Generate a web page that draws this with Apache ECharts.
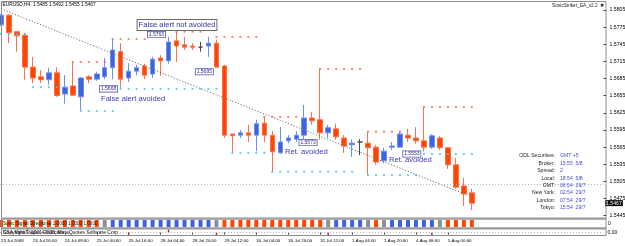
<!DOCTYPE html>
<html>
<head>
<meta charset="utf-8">
<script src="https://cdn.jsdelivr.net/npm/echarts@6/dist/echarts.min.js"></script>
<style>
  html, body { margin: 0; padding: 0; background: #fff; }
  #chart { width: 625px; height: 246px; }
</style>
</head>
<body>
<div id="chart"></div>
<script>
// H4 bars, EURUSD
const categories = [
  '23 Jul 2008', '23 Jul 04:00', '23 Jul 08:00', '23 Jul 12:00', '23 Jul 16:00', '23 Jul 20:00',
  '24 Jul 00:00', '24 Jul 04:00', '24 Jul 08:00', '24 Jul 12:00', '24 Jul 16:00', '24 Jul 20:00',
  '25 Jul 00:00', '25 Jul 04:00', '25 Jul 08:00', '25 Jul 12:00', '25 Jul 16:00', '25 Jul 20:00',
  '27 Jul 20:00', '28 Jul 00:00', '28 Jul 04:00', '28 Jul 08:00', '28 Jul 12:00', '28 Jul 16:00',
  '28 Jul 20:00', '29 Jul 00:00', '29 Jul 04:00', '29 Jul 08:00', '29 Jul 12:00', '29 Jul 16:00',
  '29 Jul 20:00', '30 Jul 00:00', '30 Jul 04:00', '30 Jul 08:00', '30 Jul 12:00', '30 Jul 16:00',
  '30 Jul 20:00', '31 Jul 00:00', '31 Jul 04:00', '31 Jul 08:00', '31 Jul 12:00', '31 Jul 16:00',
  '31 Jul 20:00', '1 Aug 00:00', '1 Aug 04:00', '1 Aug 08:00', '1 Aug 12:00', '1 Aug 16:00',
  '1 Aug 20:00', '3 Aug 20:00', '4 Aug 00:00', '4 Aug 04:00', '4 Aug 08:00', '4 Aug 12:00',
  '4 Aug 16:00', '4 Aug 20:00', '5 Aug 00:00', '5 Aug 04:00', '5 Aug 08:00', '5 Aug 12:00'
]
const emptySlots = 16 // chart shift space on the right

const opens = [
  1.5779, 1.5796, 1.5767, 1.5761, 1.5705, 1.5688, 1.5683, 1.5695, 1.5658, 1.5672,
  1.5653, 1.5688, 1.5684, 1.5688, 1.5704, 1.5732, 1.5686, 1.5698, 1.5707, 1.5693,
  1.5721, 1.5716, 1.5751, 1.5744, 1.5742, 1.5740, 1.5742, 1.5747, 1.5707, 1.5588,
  1.5586, 1.5590, 1.5586, 1.5607, 1.5586, 1.5555, 1.5576, 1.5579, 1.5586, 1.5616,
  1.5613, 1.5590, 1.5597, 1.5581, 1.5569, 1.5574, 1.5572, 1.5565, 1.5541, 1.5565,
  1.5565, 1.5586, 1.5581, 1.5576, 1.5565, 1.5581, 1.5564, 1.5534, 1.5497, 1.5485
]
const closes = [
  1.5796, 1.5765, 1.5760, 1.5705, 1.5686, 1.5683, 1.5695, 1.5655, 1.5670, 1.5656,
  1.5686, 1.5684, 1.5693, 1.5704, 1.5735, 1.5684, 1.5698, 1.5704, 1.5691, 1.5719,
  1.5716, 1.5749, 1.5742, 1.5740, 1.5740, 1.5740, 1.5747, 1.5705, 1.5586, 1.5585,
  1.5590, 1.5586, 1.5606, 1.5586, 1.5557, 1.5574, 1.5581, 1.5586, 1.5616, 1.5611,
  1.5590, 1.5599, 1.5583, 1.5567, 1.5572, 1.5574, 1.5564, 1.5539, 1.5558, 1.5567,
  1.5588, 1.5581, 1.5576, 1.5565, 1.5585, 1.5564, 1.5534, 1.5495, 1.5483, 1.5467
]
const highs = [
  1.5798, 1.5798, 1.5768, 1.5765, 1.5723, 1.5700, 1.5704, 1.5705, 1.5691, 1.5714,
  1.5688, 1.5691, 1.5697, 1.5721, 1.5754, 1.5747, 1.5712, 1.5709, 1.5711, 1.5723,
  1.5726, 1.5758, 1.5767, 1.5758, 1.5747, 1.5749, 1.5758, 1.5753, 1.5709, 1.5588,
  1.5595, 1.5604, 1.5613, 1.5618, 1.5593, 1.5600, 1.5586, 1.5593, 1.5639, 1.5627,
  1.5702, 1.5604, 1.5606, 1.5586, 1.5578, 1.5579, 1.5592, 1.5569, 1.5564, 1.5574,
  1.5593, 1.5597, 1.5600, 1.5635, 1.5588, 1.5585, 1.5565, 1.5546, 1.5511, 1.5492
]
const lows = [
  1.5777, 1.5747, 1.5732, 1.5683, 1.5677, 1.5677, 1.5674, 1.5653, 1.5641, 1.5655,
  1.5630, 1.5677, 1.5681, 1.5684, 1.5684, 1.5669, 1.5679, 1.5691, 1.5684, 1.5686,
  1.5690, 1.5711, 1.5714, 1.5735, 1.5735, 1.5732, 1.5723, 1.5704, 1.5581, 1.5555,
  1.5581, 1.5574, 1.5558, 1.5574, 1.5522, 1.5553, 1.5572, 1.5574, 1.5574, 1.5604,
  1.5578, 1.5581, 1.5578, 1.5555, 1.5548, 1.5551, 1.5516, 1.5534, 1.5537, 1.5560,
  1.5564, 1.5574, 1.5571, 1.5557, 1.5562, 1.5560, 1.5527, 1.5492, 1.5462, 1.5455
]
const lastPrice = 1.5467

// EA levels: first bar, last bar, price
const resistanceFrom = [9, 14, 22, 27, 33, 40, 46, 53]
const resistanceTo = [13, 18, 25, 32, 37, 45, 50, 59]
const resistancePrice = [1.5714, 1.5754, 1.5767, 1.5758, 1.5618, 1.5702, 1.5592, 1.5635]
const supportFrom = [0, 4, 10, 15, 29, 34, 46, 53]
const supportTo = [3, 7, 14, 27, 33, 44, 52, 59]
const supportPrice = [1.5763, 1.5670, 1.5628, 1.5667, 1.5555, 1.5522, 1.5516, 1.5553]

// trend line end points
const trendBars = [0, 59]
const trendPrices = [1.5807, 1.5478]

// price boxes
const boxTexts = ['1.5763', '1.5695', '1.5668', '1.5573', '1.5553']
const boxBars = [21, 27, 15, 40, 53]
const boxPrices = [1.5762, 1.5697, 1.5667, 1.5573, 1.5553]

// Sonic Signal Directional: 1 down, -1 up, 0 flat
const signals = [
  1, 1, 1, 1, 1, 1, 1, 1, 1, 1, 1, 1, 1, 0,
  -1, -1, -1, -1, -1, -1, -1, -1, -1, -1, -1, -1, -1, 0,
  1, 1, 1, 1, 1, 1, 1, 1, 1, 1, 1, 1, 1, 0,
  -1, -1, -1, -1, 0, 1, 0,
  -1, -1, -1, -1, -1, -1, 0,
  1, 1, 1, 1
]
// lower pane spikes
const spikes = [
  0, 0, 0, 0, 0, 0, 0, 0, 0, 0, 0, 0, 0, 0, 0, 0, -1, 0, 0, 0,
  0, 1, 0, 0, 0, 0, 0, -1, 0, 0, 0, 0, 0, 0, 0, 0, 0, 0, 0, 0,
  0, -1, 0, 0, 0, 0, 0, 0, 0, 0, 0, 0, 0, 0, -1, 0, 0, 0, 0, 0
]

const infoLabels = ['ODL Securities:', 'Broker:', 'Spread:', 'Local:', 'GMT:', 'New York:', 'London:', 'Tokyo:']
const infoValues = ['GMT +5', '15:55  5/8', '2', '18:54  5/8', '06:54  29/7', '02:54  29/7', '07:54  29/7', '15:54  29/7']

const annotations = ['False alert not avoided', 'False alert avoided', 'Ret. avoided', 'Ret. avoided']

const FONT = '"Liberation Sans", Arial, sans-serif'
const upColor = '#3d64de'
const downColor = '#ff4500'
const flatColor = '#8a9099'

const xData = categories.concat(new Array(emptySlots).fill(''))
const lastSlot = xData.length - 1
const candleData = opens.map((o, i) => [o, closes[i], lows[i], highs[i]])

const levelDots = (from, to, price) => {
  const pts = []
  from.forEach((a, k) => {
    for (let i = a; i <= to[k]; i++) pts.push([i, price[k]])
  })
  return pts
}

const labelTicks = (i, v) => i % 4 === 0 && v !== ''

const hiddenX = (gridIndex) => ({
  type: 'category',
  gridIndex,
  data: xData.slice(),
  boundaryGap: true,
  axisLine: { show: false },
  axisTick: { show: false },
  axisLabel: { show: false },
  splitLine: { show: false },
})

const gridBox = { left: -3, width: 606.5, containLabel: false, outerBoundsMode: 'none' }

const chart = echarts.init(document.getElementById('chart'))

const txt = (text, x, y, opts) => ({
  type: 'text',
  x,
  y,
  z: 100,
  silent: true,
  style: Object.assign({
    text,
    fill: '#000',
    font: '5px ' + FONT,
    verticalAlign: 'middle',
  }, opts || {}),
})

const graphics = [
  // frame and pane separators
  { type: 'rect', z: 90, silent: true, shape: { x: 1.5, y: 1.5, width: 604.5, height: 234 }, style: { fill: 'none', stroke: '#8c8c8c', lineWidth: 1 } },
  { type: 'rect', z: 90, silent: true, shape: { x: 1.5, y: 217.5, width: 604.5, height: 2.2 }, style: { fill: '#9a9a9a' } },
  { type: 'rect', z: 90, silent: true, shape: { x: 1.5, y: 227.3, width: 604.5, height: 2.2 }, style: { fill: '#9a9a9a' } },
  txt('EURUSD,H4  1.5485 1.5492 1.5455 1.5467', 2.5, 5, { font: '4.8px ' + FONT }),
  txt('SonicStriker_EA_v2.2', 552, 5.5, { font: '4.7px ' + FONT, fill: '#222' }),
  txt('\u2716', 600, 5.5, { font: '4.5px ' + FONT, fill: '#222' }),
  txt(annotations[0], 177, 25, {
    font: '7.6px ' + FONT, fill: '#33339e', align: 'center',
    backgroundColor: '#fff', borderColor: '#6c6c6c', borderWidth: 1, padding: [1, 1],
  }),
  txt(annotations[1], 101, 98.5, { font: '7.6px ' + FONT, fill: '#3a3ab4' }),
  txt(annotations[2], 285, 151.5, { font: '7.6px ' + FONT, fill: '#3a3ab4' }),
  txt(annotations[3], 389, 160, { font: '7.6px ' + FONT, fill: '#3a3ab4' }),
  txt('Sonic Signal Directional 1.0000 1.0000 1.0000', 3, 223.8, { font: '4.6px ' + FONT, fill: '#111' }),
  txt('SSA MetaTrader 4 Indicator', 3, 232.6, { font: '5px ' + FONT, fill: '#222' }),
  txt('Copyright \u00a9 2001-2008, MetaQuotes Software Corp.', 3, 232.6, { font: '5px ' + FONT, fill: '#222' }),
  txt('0', 608, 223.5, { font: '5px ' + FONT }),
  txt('0.00', 607.5, 232.8, { font: '5px ' + FONT }),
]
infoLabels.forEach((label, i) => {
  const y = 155.7 + i * 7.47
  graphics.push(txt(label, 555, y, { font: '5.1px ' + FONT, fill: '#222', align: 'right' }))
  graphics.push(txt(infoValues[i], 560, y, { font: '5.1px ' + FONT, fill: '#4a4ad8' }))
})

const option = {
  animation: false,
  backgroundColor: '#fff',
  grid: [
    Object.assign({ top: 2, height: 213.7 }, gridBox),
    Object.assign({ top: 220, height: 7 }, gridBox),
    Object.assign({ top: 229.5, height: 6 }, gridBox),
  ],
  xAxis: [
    hiddenX(0),
    hiddenX(1),
    Object.assign(hiddenX(2), {
      axisTick: { show: true, interval: labelTicks, alignWithLabel: true, length: 2, lineStyle: { color: '#000', width: 0.8 } },
      axisLabel: {
        show: true,
        interval: labelTicks,
        align: 'left',
        margin: 3,
        fontSize: 4.4,
        fontFamily: FONT,
        color: '#000',
        hideOverlap: false,
      },
    }),
  ],
  yAxis: [
    {
      type: 'value',
      gridIndex: 0,
      position: 'right',
      min: 1.5445,
      max: 1.5819,
      interval: 0.003,
      axisLine: { show: false },
      axisTick: { show: true, length: 3, lineStyle: { color: '#000', width: 0.8 } },
      axisLabel: {
        margin: 6,
        fontSize: 5.2,
        fontFamily: FONT,
        color: '#000',
        showMaxLabel: false,
        formatter: (v) => v.toFixed(4),
      },
      splitLine: { show: false },
    },
    { type: 'value', gridIndex: 1, min: 0, max: 1, show: false, splitLine: { show: false } },
    { type: 'value', gridIndex: 2, min: -1, max: 1, show: false, splitLine: { show: false } },
  ],
  series: [
    {
      type: 'candlestick',
      xAxisIndex: 0,
      yAxisIndex: 0,
      data: candleData,
      barWidth: 5,
      z: 3,
      itemStyle: {
        color: upColor,
        color0: downColor,
        borderColor: '#6f8ff0',
        borderColor0: '#ff7048',
        borderColorDoji: '#4a4a4a',
        borderWidth: 1,
      },
      markLine: {
        silent: true,
        symbol: ['none', 'none'],
        lineStyle: { color: '#b4b4b4', type: [1, 2], width: 1 },
        label: { show: false },
        data: [{ yAxis: lastPrice }],
      },
      markPoint: {
        silent: true,
        symbol: 'circle',
        symbolSize: 1,
        itemStyle: { color: 'rgba(0,0,0,0)' },
        label: {
          show: true,
          position: 'left',
          distance: 3,
          fontSize: 5,
          fontFamily: FONT,
          color: '#2a2a9a',
          backgroundColor: '#fff',
          borderColor: '#5a5ab4',
          borderWidth: 0.8,
          padding: [0.5, 1, 0, 1],
          formatter: (p) => p.name,
        },
        data: boxTexts.map((t, i) => ({ name: t, coord: [boxBars[i], boxPrices[i]] })).concat([{
          name: lastPrice.toFixed(4),
          coord: [lastSlot, lastPrice],
          label: {
            position: 'right',
            distance: 5,
            color: '#fff',
            backgroundColor: '#000',
            borderWidth: 0,
            fontSize: 5.2,
            padding: [1, 1, 0, 1],
          },
        }]),
      },
    },
    {
      type: 'line',
      xAxisIndex: 0,
      yAxisIndex: 0,
      data: trendBars.map((b, i) => [b, trendPrices[i]]),
      symbol: 'none',
      z: 4,
      lineStyle: { color: '#6e6e6e', width: 1, type: [1.2, 1.8] },
    },
    {
      type: 'scatter',
      xAxisIndex: 0,
      yAxisIndex: 0,
      data: levelDots(resistanceFrom, resistanceTo, resistancePrice),
      symbol: 'rect',
      symbolSize: 2,
      z: 5,
      itemStyle: { color: '#f26a55' },
    },
    {
      type: 'scatter',
      xAxisIndex: 0,
      yAxisIndex: 0,
      data: levelDots(supportFrom, supportTo, supportPrice),
      symbol: 'rect',
      symbolSize: 2,
      z: 5,
      itemStyle: { color: '#3cc4ee' },
    },
    {
      type: 'bar',
      xAxisIndex: 1,
      yAxisIndex: 1,
      barWidth: 4,
      data: signals.map((s) => ({
        value: 1,
        itemStyle: { color: s > 0 ? downColor : s < 0 ? upColor : flatColor },
      })),
    },
    {
      type: 'bar',
      xAxisIndex: 2,
      yAxisIndex: 2,
      barWidth: 1.5,
      itemStyle: { color: '#c42a1c' },
      data: spikes,
      markLine: {
        silent: true,
        symbol: ['none', 'none'],
        label: { show: false },
        lineStyle: { color: '#b8b8b8', type: [1, 2], width: 1 },
        data: [{ yAxis: 0 }],
      },
    },
  ],
  graphic: graphics,
}

chart.setOption(option)
</script>
</body>
</html>
